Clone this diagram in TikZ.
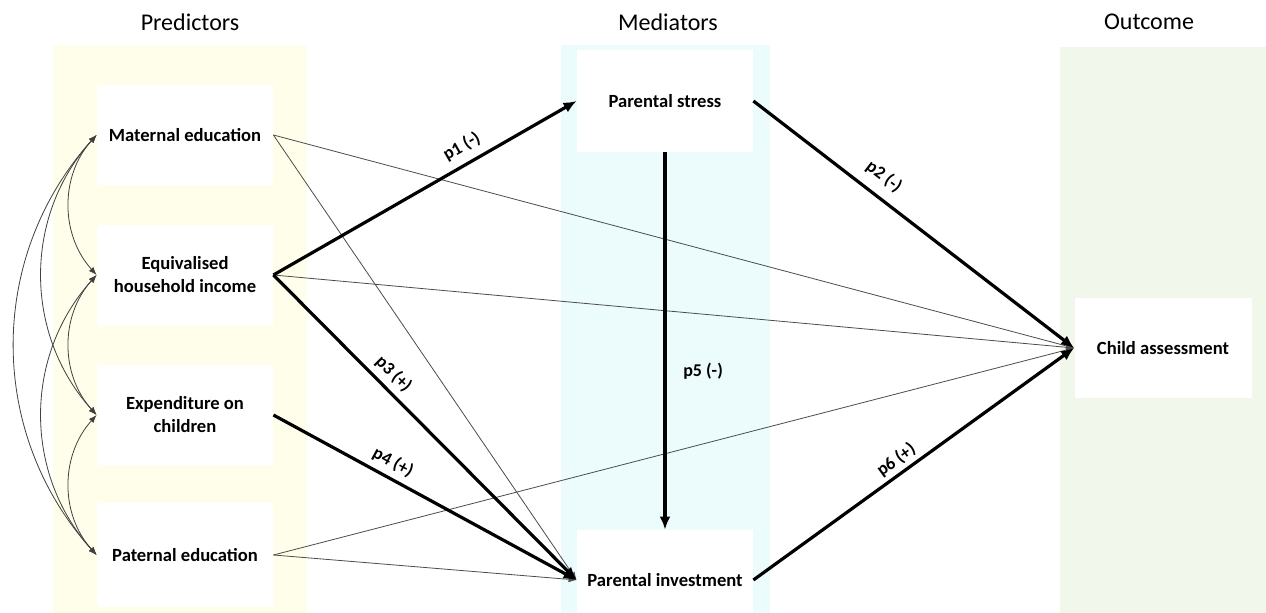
\documentclass[tikz,border=0pt]{standalone}
\usepackage{fontspec}
\setmainfont{Carlito}
\usepackage{tikz}
\usetikzlibrary{arrows}
\usetikzlibrary{arrows.meta}
\usetikzlibrary{positioning}
\usepackage{xcolor}
\definecolor{predbg}{HTML}{FEFEEA}
\definecolor{medbg}{HTML}{ECFCFD}
\definecolor{outbg}{HTML}{F2F7EC}
\tikzset{
  % arrow tips for the whole picture
  >=latex,
  line/.style={draw, ->}
}

\begin{document}
\begin{tikzpicture}[x=0.5pt, y=-0.5pt, node distance=70pt]
    % Define styles
    \tikzstyle{factor} = [rectangle, fill=white, minimum width=88pt, minimum height=50pt, inner sep=0pt, align=center, font=\fontsize{9.3}{11.5}\selectfont\bfseries]
    \tikzstyle{heading} = [font=\fontsize{12}{14}\selectfont]
    \tikzstyle{strongpath} = [draw, line width=1.6pt, -{Latex[length=6.5pt, width=5.5pt]}]
    \tikzstyle{weakpath} = [draw, line width=0.4pt, black!70, -{Latex[length=4pt, width=3pt]}]
    \tikzstyle{covar} = [draw, line width=0.4pt, black!75, {Latex[length=4pt, width=3pt]}-{Latex[length=4pt, width=3pt]}]
    \tikzstyle{coef} = [font=\fontsize{9}{11}\selectfont\bfseries, sloped, inner sep=1pt]

    % Page and column backgrounds
    \useasboundingbox (0,0) rectangle (1266,613);
    \fill [white] (0,0) rectangle (1266,613);
    \fill [predbg] (53,45) rectangle (307,613);
    \fill [medbg] (561,45) rectangle (770,613);
    \fill [outbg] (1060,47) rectangle (1266,613);

    % Column headings
    \node [heading] (predhead) at (190,22) {Predictors};
    \node [heading] (medhead) at (668,22) {Mediators};
    \node [heading] (outhead) at (1149,22) {Outcome};

    % Place nodes - predictors
    \node [factor] (mat) at (185,135) {Maternal education};
    \node [factor, below of=mat] (inc) {Equivalised\\household income};
    \node [factor, below of=inc] (spend) {Expenditure on\\children};
    \node [factor, below of=spend, minimum height=52pt] (pat) {Paternal education};

    % Place nodes - mediators and outcome
    \node [factor, minimum height=51pt] (stress) at (665,101) {Parental stress};
    \node [factor, below of=stress, node distance=239.5pt] (invest) {Parental investment};
    \node [factor, minimum width=88.5pt] (child) at (1163,348) {Child assessment};

    % Correlations between predictors
    \path [covar] (mat.west) to [bend right=42] (inc.west);
    \path [covar] (mat.west) to [bend right=42] (spend.west);
    \path [covar] (mat.west) to [bend right=42] (pat.west);
    \path [covar] (inc.west) to [bend right=42] (spend.west);
    \path [covar] (inc.west) to [bend right=42] (pat.west);
    \path [covar] (spend.west) to [bend right=42] (pat.west);

    % Direct effects
    \path [weakpath] (mat.east) -- (child.west);
    \path [weakpath] (mat.east) -- (invest.west);
    \path [weakpath] (inc.east) -- (child.west);
    \path [weakpath] (pat.east) -- (child.west);
    \path [weakpath] (pat.east) -- (invest.west);

    % Mediated paths
    \path [strongpath] (inc.east) -- node [coef, pos=0.65, above=3pt] {p1 (-)} (stress.west);
    \path [strongpath] (stress.east) -- node [coef, pos=0.37, above=4pt] {p2 (-)} (child.west);
    \path [strongpath] (inc.east) -- node [coef, pos=0.36, above=2pt] {p3 (+)} (invest.west);
    \path [strongpath] (spend.east) -- node [coef, pos=0.37, above=2pt] {p4 (+)} (invest.west);
    \path [strongpath] (stress.south) -- node [font=\fontsize{9}{11}\selectfont\bfseries, pos=0.58, right=5pt] {p5 (-)} (invest.north);
    \path [strongpath] (invest.east) -- node [coef, pos=0.47, above=1pt] {p6 (+)} (child.west);
\end{tikzpicture}
\end{document}
